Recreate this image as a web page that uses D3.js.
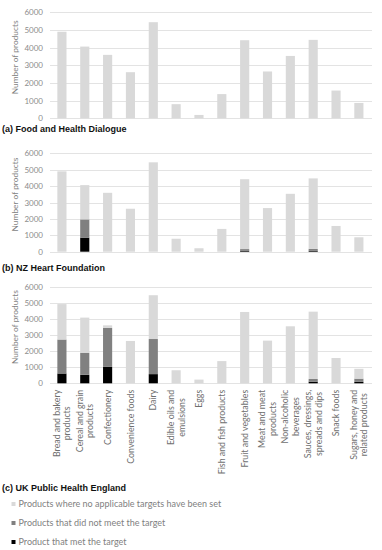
<!DOCTYPE html>
<html>
<head>
<meta charset="utf-8">
<script src="https://cdn.jsdelivr.net/npm/d3@7"></script>
<style>
    body { margin: 0; background: #fff; }
    svg { display: block; }
    .tick-label, .cat-label, .legend-text, .y-title { font-family: Lato, "Open Sans", sans-serif; }
    .panel-title { font-family: "Liberation Sans", Arial, sans-serif; font-weight: bold; }
</style>
</head>
<body>
<div id="chart"></div>
<script>
// 类别
const categories = [
    'Bread and bakery products', 'Cereal and grain products', 'Confectionery',
    'Convenience foods', 'Dairy', 'Edible oils and emulsions', 'Eggs',
    'Fish and fish products', 'Fruit and vegetables', 'Meat and meat products',
    'Non-alcoholic beverages', 'Sauces, dressings, spreads and dips',
    'Snack foods', 'Sugars, honey and related products'
];
// 类别标签的换行
const categoryLines = [
    ['Bread and bakery', 'products'], ['Cereal and grain', 'products'], ['Confectionery'],
    ['Convenience foods'], ['Dairy'], ['Edible oils and', 'emulsions'], ['Eggs'],
    ['Fish and fish products'], ['Fruit and vegetables'], ['Meat and meat', 'products'],
    ['Non-alcoholic', 'beverages'], ['Sauces, dressings,', 'spreads and dips'],
    ['Snack foods'], ['Sugars, honey and', 'related products']
];

const yTicks = [0, 1000, 2000, 3000, 4000, 5000, 6000];

// (a) Food and Health Dialogue
const metA      = [0, 0, 0, 0, 0, 0, 0, 0, 0, 0, 0, 0, 0, 0];
const notMetA   = [0, 0, 0, 0, 0, 0, 0, 0, 0, 0, 0, 0, 0, 0];
const noTargetA = [4900, 4060, 3590, 2610, 5440, 800, 190, 1370, 4420, 2650, 3530, 4440, 1570, 870];

// (b) NZ Heart Foundation
const metB      = [0, 860, 0, 0, 0, 0, 0, 0, 50, 0, 0, 50, 0, 0];
const notMetB   = [0, 1110, 0, 0, 0, 0, 0, 0, 110, 0, 0, 120, 0, 0];
const noTargetB = [4900, 2090, 3590, 2620, 5450, 790, 210, 1390, 4260, 2660, 3530, 4300, 1570, 880];

// (c) UK Public Health England
const metC      = [610, 530, 1020, 0, 570, 0, 0, 0, 0, 0, 0, 100, 0, 90];
const notMetC   = [2110, 1370, 2420, 0, 2180, 0, 0, 0, 0, 0, 0, 170, 0, 200];
const noTargetC = [2200, 2180, 160, 2630, 2720, 810, 230, 1380, 4430, 2650, 3540, 4180, 1570, 610];

const seriesKeys = ['met', 'notMet', 'noTarget'];
const seriesColors = { met: '#000000', notMet: '#808080', noTarget: '#d9d9d9' };
const legendLabels = [
    ['noTarget', 'Products where no applicable targets have been set'],
    ['notMet', 'Products that did not meet the target'],
    ['met', 'Product that met the target']
];

const panels = [
    { title: '(a) Food and Health Dialogue', met: metA, notMet: notMetA, noTarget: noTargetA, top: 12.3, bottom: 118.3, titleY: 131.5, labels: false },
    { title: '(b) NZ Heart Foundation', met: metB, notMet: notMetB, noTarget: noTargetB, top: 153.3, bottom: 251.7, titleY: 270.5, labels: false },
    { title: '(c) UK Public Health England', met: metC, notMet: notMetC, noTarget: noTargetC, top: 286.7, bottom: 383.3, titleY: 490.5, labels: true }
];

const width = 382, height = 550;
const svg = d3.select('#chart').append('svg')
    .attr('width', width)
    .attr('height', height);

// x 比例尺（三个面板共用）
const x = d3.scaleBand()
    .domain(categories)
    .range([50.5, 370.3])
    .paddingInner(0.6)
    .paddingOuter(0.3);

panels.forEach(drawPanel);
drawLegend();

// 绘制一个面板
function drawPanel(p) {
    const g = svg.append('g');
    const y = d3.scaleLinear().domain([0, 6000]).range([p.bottom, p.top]);

    // 网格线
    g.selectAll('.grid')
        .data(yTicks)
        .enter()
        .append('line')
        .attr('x1', 50).attr('x2', 372)
        .attr('y1', d => Math.round(y(d)) + 0.5)
        .attr('y2', d => Math.round(y(d)) + 0.5)
        .attr('stroke', '#e3e3e3')
        .attr('stroke-width', 1);

    // y 轴刻度
    const yAxis = d3.axisLeft(y).tickValues(yTicks).tickFormat(d3.format('d')).tickSize(0).tickPadding(0);
    const ax = g.append('g').attr('transform', 'translate(43,0)').call(yAxis);
    ax.select('.domain').remove();
    ax.selectAll('text')
        .attr('class', 'tick-label')
        .attr('fill', '#8c8c8c')
        .style('font-size', '8px');

    // 堆叠数据
    const rows = categories.map((c, i) => ({ cat: c, met: p.met[i], notMet: p.notMet[i], noTarget: p.noTarget[i] }));
    const stacked = d3.stack().keys(seriesKeys)(rows);

    g.selectAll('.series')
        .data(stacked)
        .enter()
        .append('g')
        .attr('fill', d => seriesColors[d.key])
        .selectAll('rect')
        .data(d => d.filter(s => s[1] > s[0]))
        .enter()
        .append('rect')
        .attr('x', d => x(d.data.cat))
        .attr('width', x.bandwidth())
        .attr('y', d => y(d[1]))
        .attr('height', d => y(d[0]) - y(d[1]));

    // y 轴标题
    g.append('text')
        .attr('class', 'y-title')
        .attr('transform', `translate(17.5,${(p.top + p.bottom) / 2 - 8}) rotate(-90)`)
        .attr('text-anchor', 'middle')
        .attr('fill', '#7f7f7f')
        .style('font-size', '8.4px')
        .text('Number of products');

    // 面板标题
    g.append('text')
        .attr('class', 'panel-title')
        .attr('x', 2)
        .attr('y', p.titleY)
        .attr('fill', '#111')
        .style('font-size', '9px')
        .text(p.title);

    if (p.labels) drawCategoryLabels(g, y(0));
}

// 竖排类别标签
function drawCategoryLabels(g, axisY) {
    categories.forEach((c, i) => {
        const lines = categoryLines[i];
        const cx = x(c) + x.bandwidth() / 2;
        const lg = g.append('g')
            .attr('transform', `translate(${cx},${axisY + 6.5}) rotate(-90)`);
        const texts = lines.map((line, j) => lg.append('text')
            .attr('class', 'cat-label')
            .attr('text-anchor', 'middle')
            .attr('y', (j - (lines.length - 1) / 2) * 10.6)
            .attr('dy', '0.35em')
            .attr('fill', '#6f6f6f')
            .style('font-size', '8.8px')
            .text(line));
        const maxLen = d3.max(texts, t => t.node().getComputedTextLength());
        texts.forEach(t => t.attr('x', -maxLen / 2));
    });
}

// 图例
function drawLegend() {
    const lg = svg.selectAll('.legend')
        .data(legendLabels)
        .enter()
        .append('g')
        .attr('transform', (d, i) => `translate(0,${504 + i * 19})`);

    lg.append('rect')
        .attr('x', 11.5).attr('y', -2)
        .attr('width', 4).attr('height', 4)
        .attr('fill', d => seriesColors[d[0]]);

    lg.append('text')
        .attr('class', 'legend-text')
        .attr('x', 18.5)
        .attr('dy', '0.35em')
        .attr('fill', '#7f7f7f')
        .style('font-size', '9px')
        .text(d => d[1]);
}
</script>
</body>
</html>
